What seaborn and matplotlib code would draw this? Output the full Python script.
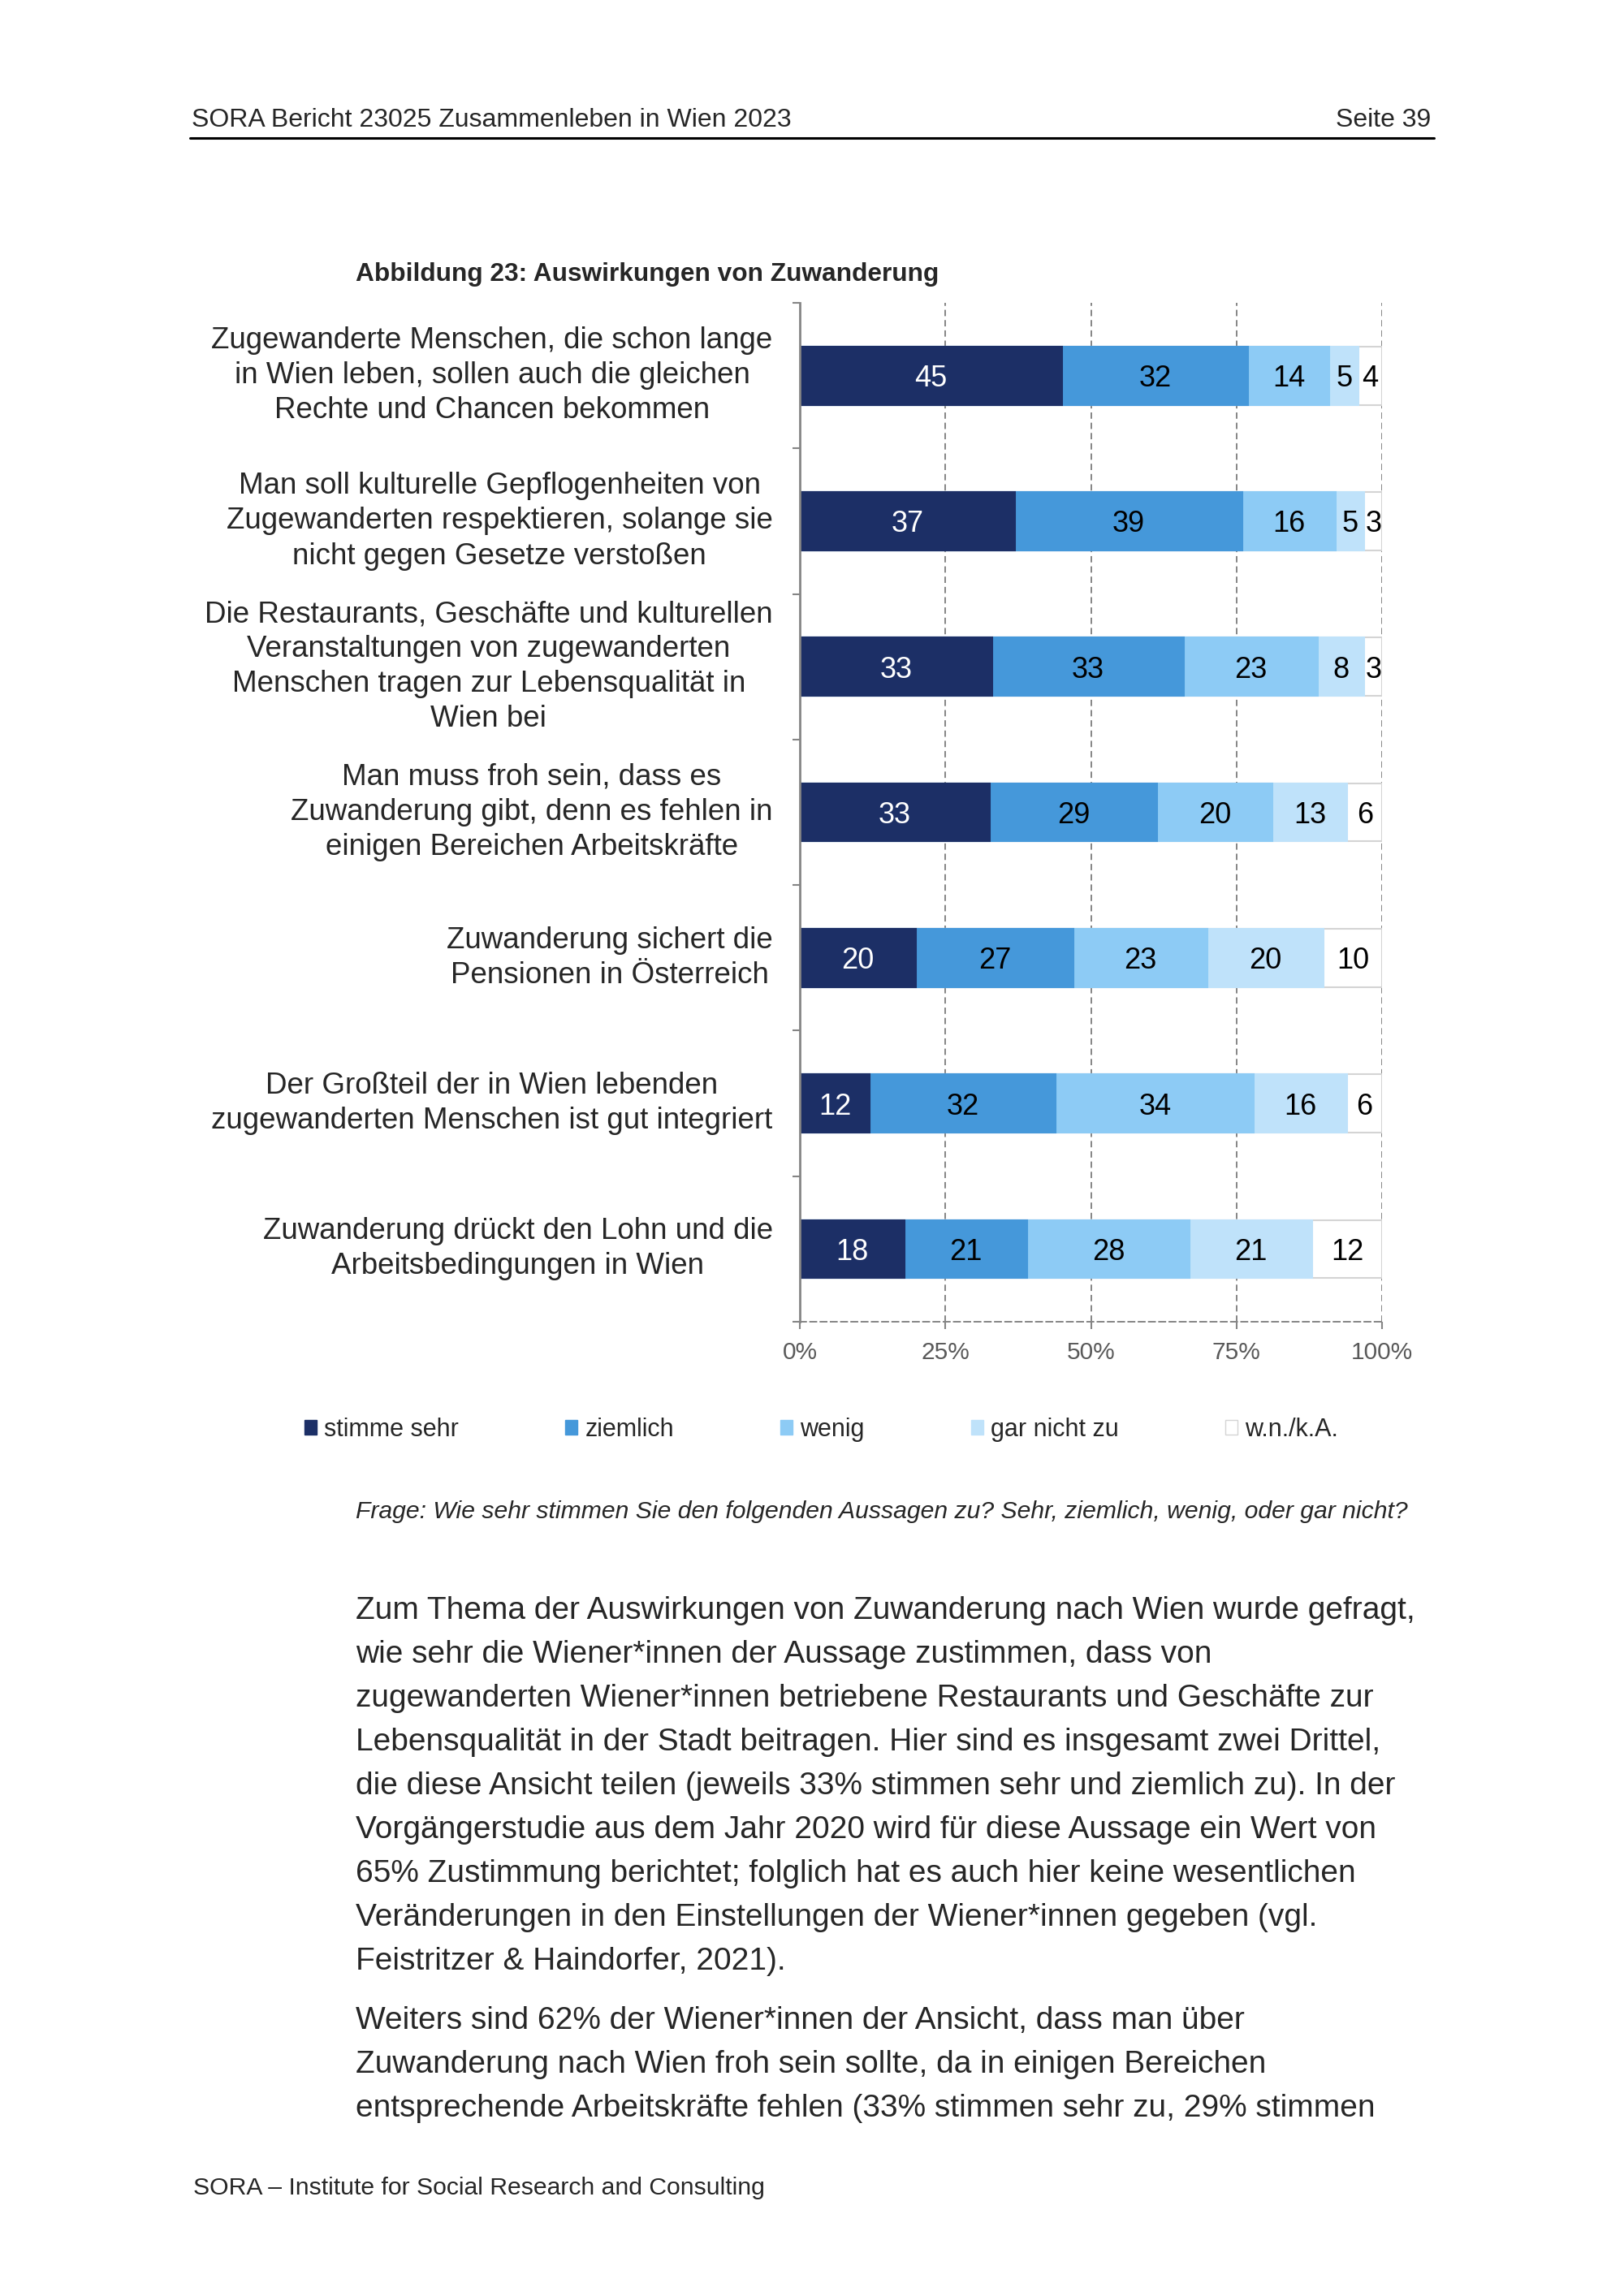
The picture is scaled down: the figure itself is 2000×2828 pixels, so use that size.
#Import Libraries

import numpy as np
import pandas as pd
import matplotlib.pyplot as plt
import seaborn as sns
from matplotlib.patches import Patch
from matplotlib.lines import Line2D

#Chart data

statements = [
    "Zugewanderte Menschen, die schon lange\nin Wien leben, sollen auch die gleichen\nRechte und Chancen bekommen",
    "Man soll kulturelle Gepflogenheiten von\nZugewanderten respektieren, solange sie\nnicht gegen Gesetze verstoßen",
    "Die Restaurants, Geschäfte und kulturellen\nVeranstaltungen von zugewanderten\nMenschen tragen zur Lebensqualität in\nWien bei",
    "Man muss froh sein, dass es\nZuwanderung gibt, denn es fehlen in\neinigen Bereichen Arbeitskräfte",
    "Zuwanderung sichert die\nPensionen in Österreich",
    "Der Großteil der in Wien lebenden\nzugewanderten Menschen ist gut integriert",
    "Zuwanderung drückt den Lohn und die\nArbeitsbedingungen in Wien",
]
answers = ["stimme sehr", "ziemlich", "wenig", "gar nicht zu", "w.n./k.A."]
stimme_sehr = [45, 37, 33, 33, 20, 12, 18]
ziemlich = [32, 39, 33, 29, 27, 32, 21]
wenig = [14, 16, 23, 20, 23, 34, 28]
gar_nicht_zu = [5, 5, 8, 13, 20, 16, 21]
wn_ka = [4, 3, 3, 6, 10, 6, 12]
x_ticks = [0, 25, 50, 75, 100]
x_tick_labels = ["0%", "25%", "50%", "75%", "100%"]

colors = ["#1c2f66", "#4598da", "#8dcbf5", "#bfe2fa", "#ffffff"]

header_left = "SORA Bericht 23025 Zusammenleben in Wien 2023"
header_right = "Seite 39"
title = "Abbildung 23: Auswirkungen von Zuwanderung"
question = "Frage: Wie sehr stimmen Sie den folgenden Aussagen zu? Sehr, ziemlich, wenig, oder gar nicht?"
footer = "SORA – Institute for Social Research and Consulting"
paragraph_1 = [
    "Zum Thema der Auswirkungen von Zuwanderung nach Wien wurde gefragt,",
    "wie sehr die Wiener*innen der Aussage zustimmen, dass von",
    "zugewanderten Wiener*innen betriebene Restaurants und Geschäfte zur",
    "Lebensqualität in der Stadt beitragen. Hier sind es insgesamt zwei Drittel,",
    "die diese Ansicht teilen (jeweils 33% stimmen sehr und ziemlich zu). In der",
    "Vorgängerstudie aus dem Jahr 2020 wird für diese Aussage ein Wert von",
    "65% Zustimmung berichtet; folglich hat es auch hier keine wesentlichen",
    "Veränderungen in den Einstellungen der Wiener*innen gegeben (vgl.",
    "Feistritzer & Haindorfer, 2021).",
]
paragraph_2 = [
    "Weiters sind 62% der Wiener*innen der Ansicht, dass man über",
    "Zuwanderung nach Wien froh sein sollte, da in einigen Bereichen",
    "entsprechende Arbeitskräfte fehlen (33% stimmen sehr zu, 29% stimmen",
]

#Build the table (100% stacked, like the Excel chart)

df = pd.DataFrame({
    "stimme sehr": stimme_sehr,
    "ziemlich": ziemlich,
    "wenig": wenig,
    "gar nicht zu": gar_nicht_zu,
    "w.n./k.A.": wn_ka,
}, index=statements)
shares = df.div(df.sum(axis=1), axis=0) * 100
cum = shares.cumsum(axis=1)
plot_df = cum.reset_index().rename(columns={"index": "Aussage"})

#Style

sns.set_style("white")
plt.rcParams["font.family"] = ["Liberation Sans", "DejaVu Sans"]
grey = "#858585"

fig = plt.figure(figsize=(20, 28.28), dpi=100)
ax = fig.add_axes([0.4925, 0.4243, 0.3585, 0.4438])

#Stacked bars: draw cumulative totals from the back to the front

for i in reversed(range(len(answers))):
    col = answers[i]
    edge = "#d4d4d4" if i == len(answers) - 1 else colors[i]
    sns.barplot(data=plot_df, x=col, y="Aussage", color=colors[i], saturation=1,
                orient="h", width=0.4, errorbar=None, edgecolor=edge,
                linewidth=1.5, ax=ax)

#Value labels in the segments

for r, stmt in enumerate(statements):
    for j, col in enumerate(answers):
        mid = cum.loc[stmt, col] - shares.loc[stmt, col] / 2
        ax.text(mid, r, str(df.loc[stmt, col]), ha="center", va="center_baseline",
                fontsize=26, color="white" if j == 0 else "black")

#Axes

ax.set_xlim(0, 100)
ax.set_ylim(len(statements) - 0.5, -0.5)
ax.set_xlabel("")
ax.set_ylabel("")
ax.set_xticks(x_ticks)
ax.set_xticklabels(x_tick_labels, fontsize=21.5, color="#595959")
ax.set_yticks(range(len(statements)))
ax.set_yticklabels(statements, fontsize=26.5)
for t in ax.get_yticklabels():
    t.set_multialignment("center")
    t.set_linespacing(1.3)
    t.set_verticalalignment("center")
ax.set_yticks(np.arange(-0.5, len(statements), 1), minor=True)
ax.tick_params(axis="y", which="major", length=0, pad=24)
ax.tick_params(axis="y", which="minor", length=6.5, width=1.5, color=grey, left=True)
ax.tick_params(axis="x", which="major", length=6.5, width=1.5, color=grey, bottom=True, pad=10.5)

ax.set_axisbelow(True)
ax.xaxis.grid(True, linestyle=(0, (4, 2.5)), color=grey, linewidth=1.4)
ax.yaxis.grid(False)
for s in ["top", "right"]:
    ax.spines[s].set_visible(False)
ax.spines["left"].set_color(grey)
ax.spines["left"].set_linewidth(2)
ax.spines["bottom"].set_color(grey)
ax.spines["bottom"].set_linewidth(1.4)
ax.spines["bottom"].set_linestyle((0, (4, 2.5)))

#Legend

handles = [Patch(facecolor=c, edgecolor=("#d4d4d4" if c == "#ffffff" else c)) for c in colors]
fig.legend(handles, answers, loc="center left", bbox_to_anchor=(375 / 2000, 1 - 1761 / 2828),
           ncol=5, frameon=False, fontsize=22, handlelength=0.5, handleheight=0.5,
           handletextpad=0.3, columnspacing=4.28, borderpad=0, borderaxespad=0)

#Page texts

fig.text(236 / 2000, 1 - 148 / 2828, header_left, fontsize=23, va="center")
fig.text(1762 / 2000, 1 - 148 / 2828, header_right, fontsize=23, va="center", ha="right")
fig.add_artist(Line2D([234 / 2000, 1766 / 2000], [1 - 170 / 2828] * 2, color="black", lw=2.2))
fig.text(438 / 2000, 1 - 338 / 2828, title, fontsize=22.8, fontweight="bold", va="center")
fig.text(438 / 2000, 1 - 1862 / 2828, question, fontsize=21.7, style="italic", va="center")

for k, line in enumerate(paragraph_1):
    fig.text(438 / 2000, 1 - (1984 + k * 54) / 2828, line, fontsize=28, va="center")
for k, line in enumerate(paragraph_2):
    fig.text(438 / 2000, 1 - (2489 + k * 54) / 2828, line, fontsize=28, va="center")

fig.text(238 / 2000, 1 - 2695 / 2828, footer, fontsize=21.7, va="center")

fig.savefig("out.png", dpi=100)
